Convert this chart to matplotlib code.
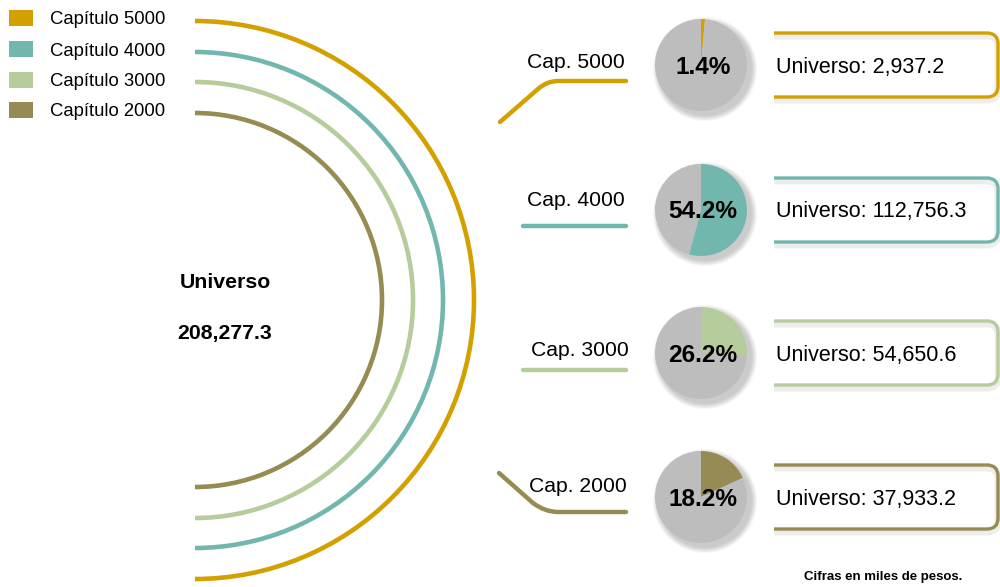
import matplotlib.pyplot as plt
from matplotlib.patches import Arc, Rectangle, Circle, PathPatch
from matplotlib.path import Path

plt.rcParams['font.family'] = ['Liberation Sans', 'DejaVu Sans']

# data
chapters = ['Capítulo 5000', 'Capítulo 4000', 'Capítulo 3000', 'Capítulo 2000']
short_labels = ['Cap. 5000', 'Cap. 4000', 'Cap. 3000', 'Cap. 2000']
universo = [2937.2, 112756.3, 54650.6, 37933.2]
pct = [1.4, 54.2, 26.2, 18.2]
total = 208277.3
colors = ['#D4A000', '#72B7AE', '#B6CC9C', '#968B52']
gray = '#BDBDBD'

fig = plt.figure(figsize=(10, 5.87), dpi=100)
ax = fig.add_axes([0, 0, 1, 1])

# legend (drawn by hand)
leg_y = [18, 49, 80, 110]
for lab, c, y in zip(chapters, colors, leg_y):
    ax.add_patch(Rectangle((9, y - 8), 24, 16, color=c, lw=0))
    ax.text(50, y + 2, lab, fontsize=13.3, va='center', ha='left')

# concentric half circles
cx, cy = 195, 300
radii = [279, 248, 218, 187]
for r, c in zip(radii, colors):
    ax.add_patch(Arc((cx, cy), 2 * r, 2 * r, theta1=-90, theta2=90,
                     color=c, lw=3.3))

ax.text(225, 283, 'Universo', fontsize=15.3, fontweight='bold', ha='center', va='center')
ax.text(225, 333, f'{total:,.1f}', fontsize=15.3, fontweight='bold', ha='center', va='center')

# connectors
C3 = Path.CURVE3
connectors = [
    ([(500, 122), (538, 89), (547, 81), (558, 81), (626, 81)],
     [Path.MOVETO, Path.LINETO, C3, C3, Path.LINETO]),
    ([(523, 226), (626, 226)], [Path.MOVETO, Path.LINETO]),
    ([(523, 370), (626, 370)], [Path.MOVETO, Path.LINETO]),
    ([(499, 473), (533, 503), (545, 512), (558, 512), (626, 512)],
     [Path.MOVETO, Path.LINETO, C3, C3, Path.LINETO]),
]
label_pos = [(576, 63), (576, 201), (580, 351), (578, 487)]
for (verts, codes), c, lab, (lx, ly) in zip(connectors, colors, short_labels, label_pos):
    ax.add_patch(PathPatch(Path(verts, codes), fill=False, edgecolor=c,
                           lw=3.2, capstyle='round', joinstyle='round'))
    ax.text(lx, ly, lab, fontsize=15.2, ha='center', va='center')

# pies
pie_y = [65, 210, 353, 497]
pr = 46
for p, c, y in zip(pct, colors, pie_y):
    for i in range(6):
        ax.add_patch(Circle((701 + 4, y + 4), pr + 1 + i, color='k',
                            alpha=0.035, lw=0))
    ax.pie([p, 100 - p], colors=[c, gray], startangle=-90, counterclock=True,
           center=(701, y), radius=pr, frame=True,
           wedgeprops=dict(linewidth=0))
    ax.text(703, y + 2, f'{p:.1f}%', fontsize=17.6, fontweight='bold',
            ha='center', va='center')

# open rounded boxes
box_top = [33, 178, 321, 465]
h, x0, x1, rc = 64, 774, 998, 11
for c, t, v in zip(colors, box_top, universo):
    b = t + h
    verts = [(x0, t), (x1 - rc, t), (x1, t), (x1, t + rc), (x1, b - rc),
             (x1, b), (x1 - rc, b), (x0, b)]
    codes = [Path.MOVETO, Path.LINETO, C3, C3, Path.LINETO, C3, C3, Path.LINETO]
    sh = [(vx, vy + 3) for vx, vy in verts]
    ax.add_patch(PathPatch(Path(sh, codes), fill=False, edgecolor='#888888',
                           lw=5, alpha=0.15))
    ax.add_patch(PathPatch(Path(verts, codes), fill=False, edgecolor=c, lw=2.4))
    ax.text(776, t + h / 2 + 2, f'Universo: {v:,.1f}', fontsize=15.5,
            ha='left', va='center')

ax.text(883, 577, 'Cifras en miles de pesos.', fontsize=9.5, fontweight='bold',
        ha='center', va='center')

ax.set_xlim(0, 1000)
ax.set_ylim(587, 0)
ax.set_aspect('auto')
ax.axis('off')
fig.savefig('out.png', dpi=100)
